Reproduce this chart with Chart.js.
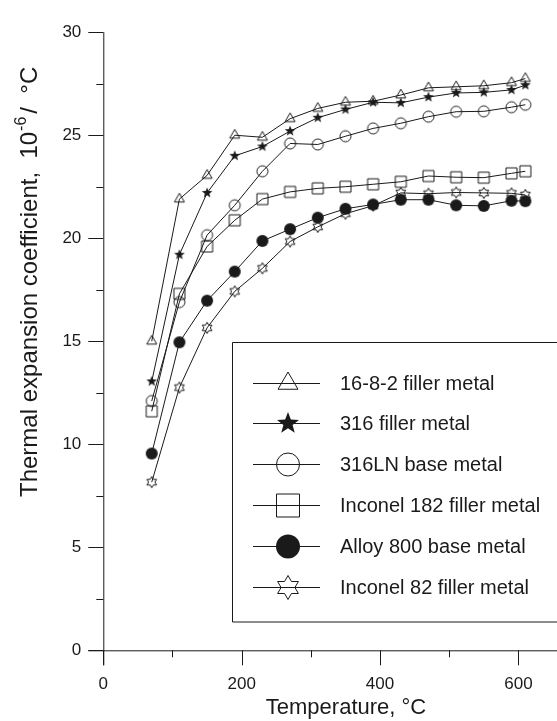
<!DOCTYPE html>
<html>
<head>
<meta charset="utf-8">
<script src="https://cdn.jsdelivr.net/npm/chart.js@4.4.1/dist/chart.umd.min.js"></script>
<style>
  html, body { margin: 0; padding: 0; background: #fff; }
  #wrap { width: 557px; height: 721px; position: relative; }
</style>
</head>
<body>
<div id="wrap"><canvas id="grafico"></canvas></div>
<script>
// dados (coeficiente x 10^-6 / C)
const temperatures = [70, 110, 150, 190, 230, 270, 310, 350, 390, 430, 470, 510, 550, 590, 610]
const filler1682 = [15.0, 21.9, 23.05, 25.0, 24.9, 25.8, 26.3, 26.6, 26.65, 26.95, 27.3, 27.35, 27.4, 27.55, 27.75]
const filler316 = [13.05, 19.2, 22.2, 24.0, 24.45, 25.2, 25.85, 26.25, 26.6, 26.57, 26.85, 27.05, 27.08, 27.2, 27.43]
const base316LN = [12.1, 16.9, 20.15, 21.6, 23.25, 24.6, 24.55, 24.95, 25.33, 25.58, 25.9, 26.14, 26.16, 26.36, 26.48]
const inconel182 = [11.6, 17.3, 19.6, 20.87, 21.9, 22.25, 22.42, 22.5, 22.62, 22.74, 23.02, 22.96, 22.94, 23.15, 23.25]
const alloy800 = [9.55, 14.95, 16.97, 18.38, 19.87, 20.44, 21.0, 21.43, 21.64, 21.87, 21.87, 21.6, 21.57, 21.82, 21.8]
const inconel82 = [8.16, 12.75, 15.65, 17.42, 18.54, 19.84, 20.55, 21.19, 21.58, 22.2, 22.16, 22.22, 22.2, 22.18, 22.1]
const seriesNames = ['16-8-2 filler metal', '316 filler metal', '316LN base metal', 'Inconel 182 filler metal', 'Alloy 800 base metal', 'Inconel 82 filler metal']
const xTicks = [0, 200, 400, 600]
const yTicks = [0, 5, 10, 15, 20, 25, 30]

const allSeries = [filler1682, filler316, base316LN, inconel182, alloy800, inconel82]
const markerKinds = ['triangle', 'star', 'circle', 'square', 'dot', 'hexagram']
const pointSizes = [5.8, 5.6, 5.5, 5.5, 6, 5.6]
const legendSizes = [11.5, 11.5, 11.5, 11.5, 12, 12]
const ink = '#1a1a1a'

Chart.defaults.font.family = '"Liberation Sans", Arial, sans-serif'
Chart.defaults.color = ink

function drawMarker(ctx, kind, x, y, r) {
  ctx.save()
  ctx.lineWidth = 1
  ctx.strokeStyle = ink
  ctx.fillStyle = ink
  ctx.beginPath()
  if (kind == 'triangle') {
    for (let i = 0; i < 3; i++) {
      const a = -Math.PI / 2 + i * 2 * Math.PI / 3
      ctx.lineTo(x + r * Math.cos(a), y + r * Math.sin(a))
    }
    ctx.closePath()
    ctx.stroke()
  } else if (kind == 'star') {
    for (let i = 0; i < 10; i++) {
      const a = -Math.PI / 2 + i * Math.PI / 5
      const rr = i % 2 ? r * 0.42 : r
      ctx.lineTo(x + rr * Math.cos(a), y + rr * Math.sin(a))
    }
    ctx.closePath()
    ctx.fill()
  } else if (kind == 'hexagram') {
    for (let i = 0; i < 12; i++) {
      const a = -Math.PI / 2 + i * Math.PI / 6
      const rr = i % 2 ? r * 0.577 : r
      ctx.lineTo(x + rr * Math.cos(a), y + rr * Math.sin(a))
    }
    ctx.closePath()
    ctx.stroke()
  } else if (kind == 'circle') {
    ctx.arc(x, y, r, 0, Math.PI * 2)
    ctx.stroke()
  } else if (kind == 'dot') {
    ctx.arc(x, y, r, 0, Math.PI * 2)
    ctx.fill()
  } else if (kind == 'square') {
    ctx.rect(x - r, y - r, 2 * r, 2 * r)
    ctx.stroke()
  }
  ctx.restore()
}

function markerCanvas(kind, r) {
  const size = Math.ceil(r * 2 + 4)
  const c = document.createElement('canvas')
  c.width = size
  c.height = size
  drawMarker(c.getContext('2d'), kind, size / 2, size / 2, r)
  return c
}

// eixos, titulos e legenda desenhados por cima
const decoracao = {
  id: 'decoracao',
  afterDraw(chart) {
    const ctx = chart.ctx
    const area = chart.chartArea
    const xs = chart.scales.x
    const ys = chart.scales.y
    ctx.save()
    ctx.strokeStyle = ink
    ctx.lineWidth = 1

    // linhas dos eixos
    ctx.beginPath()
    ctx.moveTo(area.left - 15, area.bottom + 0.5)
    ctx.lineTo(chart.width, area.bottom + 0.5)
    ctx.moveTo(area.left + 0.5, area.top)
    ctx.lineTo(area.left + 0.5, area.bottom + 15)

    // marcas do eixo x
    for (let i = 0; i < xTicks.length; i++) {
      const px = Math.round(xs.getPixelForValue(xTicks[i])) + 0.5
      ctx.moveTo(px, area.bottom)
      ctx.lineTo(px, area.bottom + 15)
      if (i < xTicks.length - 1) {
        const mx = Math.round(xs.getPixelForValue((xTicks[i] + xTicks[i + 1]) / 2)) + 0.5
        ctx.moveTo(mx, area.bottom)
        ctx.lineTo(mx, area.bottom + 7)
      }
    }
    // marcas do eixo y
    for (let i = 0; i < yTicks.length; i++) {
      const py = Math.round(ys.getPixelForValue(yTicks[i])) + 0.5
      ctx.moveTo(area.left - 15, py)
      ctx.lineTo(area.left, py)
      if (i < yTicks.length - 1) {
        const my = Math.round(ys.getPixelForValue((yTicks[i] + yTicks[i + 1]) / 2)) + 0.5
        ctx.moveTo(area.left - 7, my)
        ctx.lineTo(area.left, my)
      }
    }
    ctx.stroke()

    // titulo x
    ctx.fillStyle = ink
    ctx.font = '22px "Liberation Sans", Arial, sans-serif'
    ctx.textAlign = 'center'
    ctx.textBaseline = 'alphabetic'
    ctx.fillText('Temperature, °C', 346, 714)

    // titulo y (com expoente)
    ctx.save()
    ctx.translate(37, 497)
    ctx.rotate(-Math.PI / 2)
    ctx.textAlign = 'left'
    ctx.font = '24px "Liberation Sans", Arial, sans-serif'
    let part = 'Thermal expansion coefficient,  10'
    ctx.fillText(part, 0, 0)
    let pos = ctx.measureText(part).width + 1
    ctx.font = '16px "Liberation Sans", Arial, sans-serif'
    ctx.fillText('-6', pos, -11)
    pos += ctx.measureText('-6').width + 3
    ctx.font = '24px "Liberation Sans", Arial, sans-serif'
    ctx.fillText('/  °C', pos, 0)
    ctx.restore()

    // legenda
    ctx.beginPath()
    ctx.rect(232.5, 342.5, 400, 279.5)
    ctx.fillStyle = '#fff'
    ctx.fill()
    ctx.stroke()
    ctx.font = '20px "Liberation Sans", Arial, sans-serif'
    ctx.textAlign = 'left'
    ctx.textBaseline = 'middle'
    for (let i = 0; i < seriesNames.length; i++) {
      const y = Math.round(382.5 + i * 40.8) + 0.5
      ctx.beginPath()
      ctx.moveTo(253, y)
      ctx.lineTo(320, y)
      ctx.stroke()
      drawMarker(ctx, markerKinds[i], 288, y, legendSizes[i])
      ctx.fillStyle = ink
      ctx.fillText(seriesNames[i], 340, y + 1)
    }
    ctx.restore()
  }
}

const datasets = allSeries.map((vals, i) => ({
  label: seriesNames[i],
  data: temperatures.map((t, j) => ({ x: t, y: vals[j] })),
  borderColor: ink,
  borderWidth: 1,
  backgroundColor: 'rgba(0,0,0,0)',
  pointStyle: markerCanvas(markerKinds[i], pointSizes[i]),
  pointRadius: 6,
  pointHoverRadius: 6,
  tension: 0
}))

const g = new Chart(document.getElementById('grafico'), {
  type: 'line',
  data: { datasets: datasets },
  options: {
    responsive: true,
    maintainAspectRatio: false,
    animation: false,
    layout: { padding: { top: 20.7, right: 0, left: 0, bottom: 0 } },
    plugins: {
      legend: { display: false },
      tooltip: { enabled: false }
    },
    scales: {
      x: {
        type: 'linear',
        min: 0,
        max: 638,
        afterBuildTicks: s => { s.ticks = xTicks.map(v => ({ value: v })) },
        afterFit: s => { s.height = 70.7 },
        grid: { display: false, drawTicks: false },
        border: { display: false },
        ticks: { font: { size: 17 }, color: ink, padding: 24, maxRotation: 0 }
      },
      y: {
        min: 0,
        max: 30,
        afterBuildTicks: s => { s.ticks = yTicks.map(v => ({ value: v })) },
        afterFit: s => { s.width = 103.3 },
        grid: { display: false, drawTicks: false },
        border: { display: false },
        ticks: { font: { size: 17 }, color: ink, padding: 22 }
      }
    }
  },
  plugins: [decoracao]
})
</script>
</body>
</html>
